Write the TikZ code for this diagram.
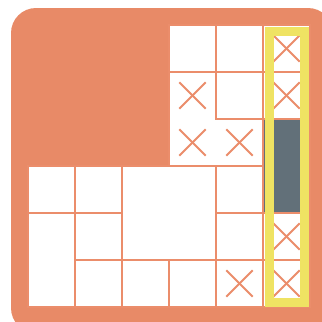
\documentclass[tikz,border=0pt]{standalone}
\usepackage{tikz}
\definecolor{bgorange}{HTML}{E88A67}
\definecolor{lineorange}{HTML}{EB8D6B}
\definecolor{hlyellow}{HTML}{EFE363}
\definecolor{blockgray}{HTML}{627079}
\tikzset{
  cellbox/.style={fill=white,draw=lineorange,line width=2pt},
  blockcell/.style={fill=blockgray,draw=lineorange,line width=2pt},
  crossmark/.style={draw=lineorange,line width=2pt},
  hlframe/.style={draw=hlyellow,line width=9pt}
}
\begin{document}
\begin{tikzpicture}[x=1pt,y=-1pt]
\useasboundingbox (0,0) rectangle (322,322);
\clip (0,0) rectangle (322,322);
\fill[bgorange,rounded corners=25pt] (11,8) rectangle (333,333);
\begin{scope}[shift={(28,25)},x=47pt,y=-47pt]
% top block
\draw[cellbox] (3,0) rectangle (4,1);
\draw[cellbox] (4,0) rectangle (5,1);
\draw[cellbox] (5,0) rectangle (6,1);
\draw[cellbox] (3,1) -- (4,1) -- (4,2) -- (5,2) -- (5,3) -- (3,3) -- cycle;
\draw[cellbox] (4,1) rectangle (5,2);
\draw[cellbox] (5,1) rectangle (6,2);
\draw[blockcell] (5,2) rectangle (6,4);
% bottom block
\draw[cellbox] (0,3) rectangle (1,4);
\draw[cellbox] (1,3) rectangle (2,4);
\draw[cellbox] (2,3) rectangle (4,5);
\draw[cellbox] (4,3) rectangle (5,4);
\draw[cellbox] (4,4) rectangle (5,5);
\draw[cellbox] (5,4) rectangle (6,5);
\draw[cellbox] (0,4) rectangle (1,6);
\draw[cellbox] (1,4) rectangle (2,5);
\foreach \cx in {1,...,5} {\draw[cellbox] (\cx,5) rectangle (\cx+1,6);}
% crosses
\foreach \cx/\cy in {5/0,3/1,5/1,3/2,4/2,5/4,4/5,5/5} {
  \draw[crossmark] (\cx+0.22,\cy+0.22) -- (\cx+0.78,\cy+0.78);
  \draw[crossmark] (\cx+0.78,\cy+0.22) -- (\cx+0.22,\cy+0.78);
}
\end{scope}
\draw[hlframe] (269.5,31.5) rectangle (304.5,302.5);
\end{tikzpicture}
\end{document}
